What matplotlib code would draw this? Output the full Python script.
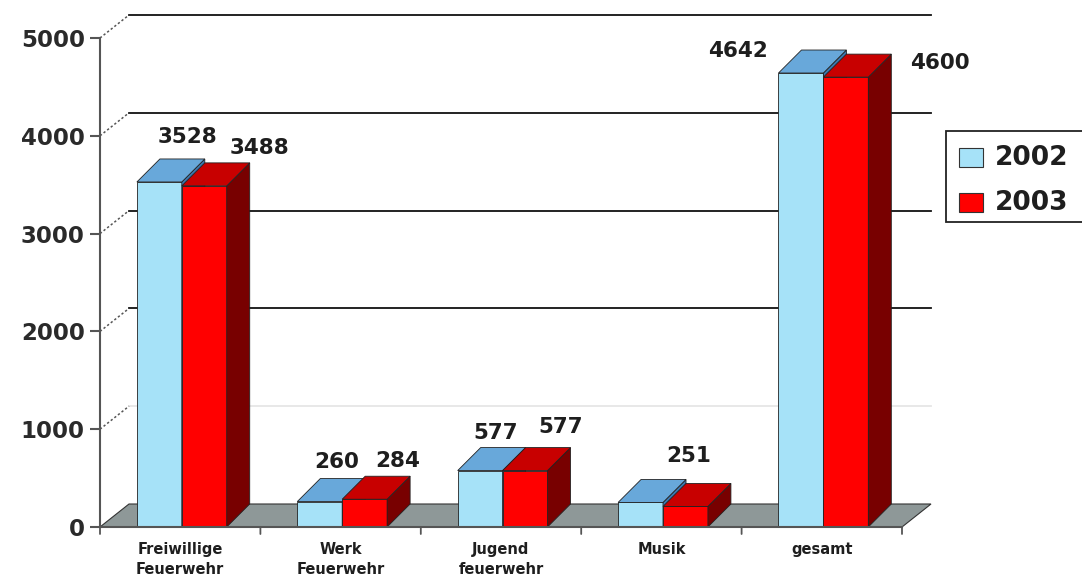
import matplotlib
matplotlib.use("Agg")
import matplotlib.pyplot as plt
from matplotlib.patches import Polygon, Rectangle

categories = ["Freiwillige\nFeuerwehr", "Werk\nFeuerwehr", "Jugend\nfeuerwehr", "Musik", "gesamt"]
values_2002 = [3528, 260, 577, 251, 4642]
values_2003 = [3488, 284, 577, 210, 4600]
show_2002 = [True, True, True, True, True]
show_2003 = [True, True, True, False, True]
years = ["2002", "2003"]
yticks = [0, 1000, 2000, 3000, 4000, 5000]

# label offsets in pixels (x, y) from the top centre of each front face
off_2002 = [(28, 45), (17, 40), (16, 38), (48, 46), (-63, 22)]
off_2003 = [(55, 38), (33, 38), (36, 44), (0, 0), (94, 14)]

PX_CAT = 160.4      # pixels per category slot
PX_UNIT = 0.0978    # pixels per value unit
W, H = 1082, 578

col_front = ["#a6e2f8", "#ff0000"]
col_top = ["#68a8da", "#c80000"]
col_side = ["#3c78b0", "#780000"]
text_col = "#1e1e1e"

fig = plt.figure(figsize=(W / 100, H / 100), dpi=100)
ax = fig.add_axes([100 / W, 51 / H, 840 / W, 522 / H])
ax.set_xlim(-0.5, -0.5 + 840 / PX_CAT)
ax.set_ylim(0, 522 / PX_UNIT)
ax.patch.set_alpha(0)


def px_x(p):
    return p / PX_CAT


def px_y(p):
    return p / PX_UNIT


# floor and back wall
wall_dx, wall_dy = px_x(29), px_y(23)
x_left, x_right = -0.5, len(categories) - 0.5
floor = Polygon([(x_left, 0), (x_right, 0), (x_right + wall_dx, wall_dy), (x_left + wall_dx, wall_dy)],
                closed=True, facecolor="#8e9898", edgecolor="#333333", lw=0.8, clip_on=False, zorder=1)
ax.add_patch(floor)
for v in yticks[1:]:
    gc = "#e6e6e6" if v == 1000 else "#111111"
    ax.plot([x_left + wall_dx, x_right + wall_dx], [v + wall_dy, v + wall_dy], color=gc, lw=1.3,
            clip_on=False, zorder=1)
    ax.plot([x_left, x_left + wall_dx], [v, v + wall_dy], color="#555555", lw=1.1, ls=(0, (1.5, 1.5)),
            clip_on=False, zorder=1)

# 3D bars
bar_w = 0.28
bar_dx, bar_dy = px_x(23), px_y(23)
starts = [i - 0.27 for i in range(len(categories))]
for k, vals in enumerate([values_2002, values_2003]):
    x0s = [s + k * bar_w for s in starts]
    ax.bar(x0s, vals, width=bar_w, align="edge", color=col_front[k], edgecolor="#222222",
           lw=0.6, zorder=2 + k)
    for x0, h in zip(x0s, vals):
        top = Polygon([(x0, h), (x0 + bar_w, h), (x0 + bar_w + bar_dx, h + bar_dy), (x0 + bar_dx, h + bar_dy)],
                      closed=True, facecolor=col_top[k], edgecolor="#222222", lw=0.6, zorder=2 + k)
        side = Polygon([(x0 + bar_w, 0), (x0 + bar_w + bar_dx, bar_dy), (x0 + bar_w + bar_dx, h + bar_dy),
                        (x0 + bar_w, h)],
                       closed=True, facecolor=col_side[k], edgecolor="#222222", lw=0.6, zorder=2 + k)
        ax.add_patch(side)
        ax.add_patch(top)

# value labels
for k, (vals, show, offs) in enumerate([(values_2002, show_2002, off_2002), (values_2003, show_2003, off_2003)]):
    for i, (v, s, o) in enumerate(zip(vals, show, offs)):
        if not s:
            continue
        cx = starts[i] + k * bar_w + bar_w / 2
        ax.annotate(str(v), xy=(cx, v), xytext=o, textcoords="offset pixels", ha="center", va="center",
                    fontsize=15.5, fontweight="bold", color=text_col, zorder=6)

# axes
for sp in ["top", "right", "bottom"]:
    ax.spines[sp].set_visible(False)
ax.spines["left"].set_bounds(0, 5000)
ax.spines["left"].set_color("#555555")
ax.spines["left"].set_linewidth(1.5)
ax.set_yticks(yticks)
ax.set_yticklabels([str(t) for t in yticks], fontsize=16.5, fontweight="bold", color="#2a2a2a")
ax.tick_params(axis="y", direction="out", length=7, width=1.5, color="#555555", pad=4)
ax.set_xticks([])
ax.plot([x_left, x_right], [0, 0], color="#555555", lw=1.5, clip_on=False, zorder=5)
for i in range(len(categories) + 1):
    xt = x_left + i
    ax.annotate("", xy=(xt, 0), xytext=(0, -7), textcoords="offset pixels",
                arrowprops=dict(arrowstyle="-", color="#555555", lw=1.3, shrinkA=0, shrinkB=0))
for i, c in enumerate(categories):
    ax.annotate(c, xy=(i, 0), xytext=(0, -15), textcoords="offset pixels", ha="center", va="top",
                fontsize=10.5, fontweight="bold", color=text_col, linespacing=1.4, annotation_clip=False)

# legend
fig.add_artist(Rectangle((946 / W, 1 - 222 / H), 160 / W, 91 / H, transform=fig.transFigure,
                         facecolor="white", edgecolor="#222222", lw=1.3))
for j, (yr, yc) in enumerate(zip(years, [158, 203])):
    fig.add_artist(Rectangle((959 / W, 1 - (yc + 9) / H), 24 / W, 19 / H, transform=fig.transFigure,
                             facecolor=col_front[j], edgecolor="#333333", lw=0.8))
    fig.text(995 / W, 1 - yc / H, yr, ha="left", va="center", fontsize=19, fontweight="bold", color=text_col)

fig.savefig("out.png", dpi=100, facecolor="white")
